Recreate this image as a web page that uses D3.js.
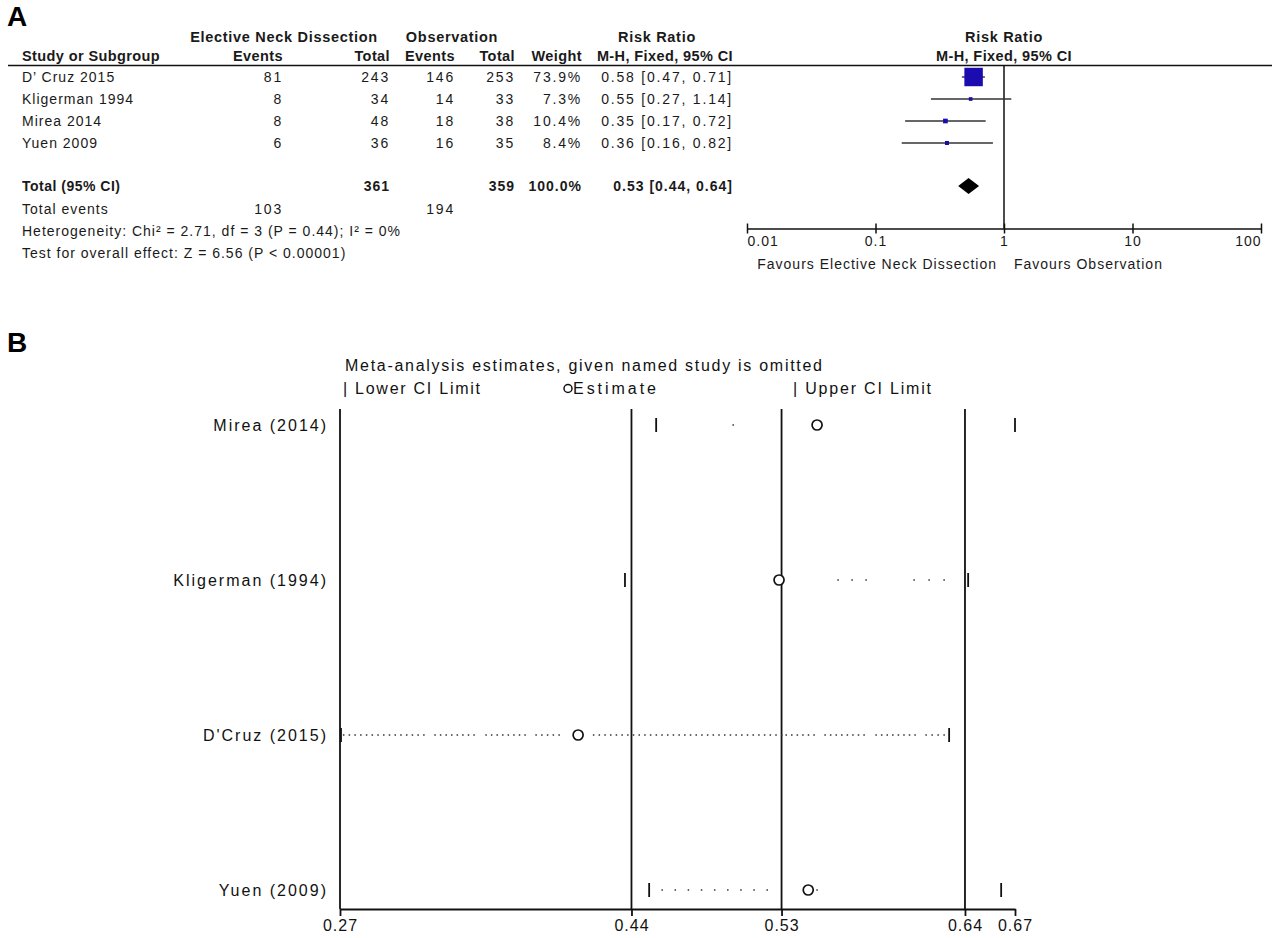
<!DOCTYPE html>
<html>
<head>
<meta charset="utf-8">
<script src="https://cdn.jsdelivr.net/npm/d3@7"></script>
<style>
  html, body { margin: 0; padding: 0; background: #fff; }
  svg { display: block; font-family: Arial, "Liberation Sans", sans-serif; }
  .hdr1 { font-size: 14.5px; font-weight: bold; letter-spacing: 0.7px; }
  .hdr2 { font-size: 14.5px; font-weight: bold; letter-spacing: 0.4px; }
  .txt { font-size: 14px; letter-spacing: 1px; }
  .num { font-size: 14px; letter-spacing: 1.8px; }
  .bnum { font-size: 14px; font-weight: bold; letter-spacing: 1px; }
  .btxt { font-size: 14px; font-weight: bold; letter-spacing: 0.5px; }
  .stata { font-size: 16px; }
</style>
</head>
<body>
<svg id="chart" width="1272" height="938"></svg>
<script>
// ---------- Panel A: forest plot data ----------
const studies   = ["D\u2019 Cruz 2015", "Kligerman 1994", "Mirea 2014", "Yuen 2009"];
const endEvents = [81, 8, 8, 6];
const endTotal  = [243, 34, 48, 36];
const obsEvents = [146, 14, 18, 16];
const obsTotal  = [253, 33, 38, 35];
const weights   = [73.9, 7.3, 10.4, 8.4];
const rr        = [0.58, 0.55, 0.35, 0.36];
const rrLow     = [0.47, 0.27, 0.17, 0.16];
const rrHigh    = [0.71, 1.14, 0.72, 0.82];
const pooledRR = 0.53, pooledLow = 0.44, pooledHigh = 0.64, pooledWeight = 100.0;
const heterogeneityText = "Heterogeneity: Chi\u00B2 = 2.71, df = 3 (P = 0.44); I\u00B2 = 0%";
const overallTestText   = "Test for overall effect: Z = 6.56 (P < 0.00001)";
const rrTicks = [0.01, 0.1, 1, 10, 100];

// ---------- Panel B: leave-one-out sensitivity data ----------
const omittedStudies = ["Mirea (2014)", "Kligerman (1994)", "D'Cruz (2015)", "Yuen (2009)"];
const omitLower    = [0.4542, 0.4355, 0.2652, 0.4500];
const omitEstimate = [0.5513, 0.5285, 0.4080, 0.5460];
const omitUpper    = [0.6700, 0.6419, 0.6305, 0.6617];
// visible stretches of the dotted connector on each row (estimate scale)
const omitDots = [
  [[0.5010, 0.5010]],
  [[0.5639, 0.5807], [0.6095, 0.6275]],
  [[0.2674, 0.3155], [0.3222, 0.3456], [0.3528, 0.3762], [0.3828, 0.3966],
   [0.4173, 0.5301], [0.5328, 0.5495], [0.5561, 0.5795], [0.5867, 0.6101], [0.6167, 0.6275]],
  [[0.4584, 0.5214], [0.5513, 0.5513]]
];
const overallLines = [0.44, 0.53, 0.64];
const sensTicks = [0.2652, 0.44, 0.53, 0.64, 0.67];

const svg = d3.select("#chart");
const ink = "#1a1a1a";

// ===================== Panel A =====================
const A = svg.append("g");
A.append("text").attr("x", 7).attr("y", 26).attr("font-size", 28).attr("font-weight", "bold")
  .attr("fill", "#000").text("A");

const col = { study: 22, endEvents: 283, endTotal: 390, obsEvents: 455, obsTotal: 515, weight: 582, ci: 733 };
const fmt2 = d3.format(".2f");
const ciText = (m, l, h) => `${fmt2(m)} [${fmt2(l)}, ${fmt2(h)}]`;

// header rows
const h1y = 42, h2y = 61;
A.append("text").attr("class", "hdr1").attr("x", 284).attr("y", h1y).attr("text-anchor", "middle").attr("fill", ink).text("Elective Neck Dissection");
A.append("text").attr("class", "hdr1").attr("x", 452).attr("y", h1y).attr("text-anchor", "middle").attr("fill", ink).text("Observation");
A.append("text").attr("class", "hdr1").attr("x", 657).attr("y", h1y).attr("text-anchor", "middle").attr("fill", ink).text("Risk Ratio");
A.append("text").attr("class", "hdr1").attr("x", 1004).attr("y", h1y).attr("text-anchor", "middle").attr("fill", ink).text("Risk Ratio");

const hdr2 = [
  ["Study or Subgroup", col.study, "start"],
  ["Events", col.endEvents, "end"],
  ["Total", col.endTotal, "end"],
  ["Events", col.obsEvents, "end"],
  ["Total", col.obsTotal, "end"],
  ["Weight", col.weight, "end"],
  ["M-H, Fixed, 95% CI", col.ci, "end"],
  ["M-H, Fixed, 95% CI", 1004, "middle"]
];
A.selectAll("text.h2").data(hdr2).join("text")
  .attr("class", "hdr2").attr("x", d => d[1]).attr("y", h2y)
  .attr("text-anchor", d => d[2]).attr("fill", ink).text(d => d[0]);

A.append("line").attr("x1", 8).attr("x2", 1272).attr("y1", 65.5).attr("y2", 65.5)
  .attr("stroke", "#111").attr("stroke-width", 1.5);

// study rows
const rowY = d3.scalePoint().domain(studies).range([77, 143]);
const rows = studies.map((s, i) => ({ s, i }));
const cells = [
  [d => d.s, col.study, "start", "txt"],
  [d => endEvents[d.i], col.endEvents, "end", "num"],
  [d => endTotal[d.i], col.endTotal, "end", "num"],
  [d => obsEvents[d.i], col.obsEvents, "end", "num"],
  [d => obsTotal[d.i], col.obsTotal, "end", "num"],
  [d => d3.format(".1f")(weights[d.i]) + "%", col.weight, "end", "num"],
  [d => ciText(rr[d.i], rrLow[d.i], rrHigh[d.i]), col.ci, "end", "num"]
];
cells.forEach(([acc, x, anchor, cls]) => {
  A.selectAll(null).data(rows).join("text")
    .attr("class", cls).attr("x", x).attr("y", d => rowY(d.s)).attr("dy", "0.36em")
    .attr("text-anchor", anchor).attr("fill", ink).text(acc);
});

// totals
const totY = 186, evY = 209, hetY = 231, testY = 253;
const addT = (t, x, y, anchor, cls) => A.append("text").attr("class", cls).attr("x", x).attr("y", y)
  .attr("dy", "0.36em").attr("text-anchor", anchor).attr("fill", ink).text(t);
addT("Total (95% CI)", col.study, totY, "start", "btxt");
addT(d3.sum(endTotal), col.endTotal, totY, "end", "bnum");
addT(d3.sum(obsTotal), col.obsTotal, totY, "end", "bnum");
addT(d3.format(".1f")(pooledWeight) + "%", col.weight, totY, "end", "bnum");
addT(ciText(pooledRR, pooledLow, pooledHigh), col.ci, totY, "end", "bnum");
addT("Total events", col.study, evY, "start", "txt");
addT(d3.sum(endEvents), col.endEvents, evY, "end", "num");
addT(d3.sum(obsEvents), col.obsEvents, evY, "end", "num");
addT(heterogeneityText, col.study, hetY, "start", "txt");
addT(overallTestText, col.study, testY, "start", "txt");

// forest plot
const xA = d3.scaleLog().domain([0.01, 100]).range([747, 1261]);
const axisY = 228.5;
const boxSize = d3.scalePow().exponent(0.7).domain([0, 100]).range([0, 22.8]);

A.append("line").attr("x1", xA(1)).attr("x2", xA(1)).attr("y1", 65.5).attr("y2", axisY)
  .attr("stroke", "#111").attr("stroke-width", 1.5);

A.selectAll("line.ci").data(rows).join("line")
  .attr("x1", d => xA(rrLow[d.i])).attr("x2", d => xA(rrHigh[d.i]))
  .attr("y1", d => rowY(d.s)).attr("y2", d => rowY(d.s))
  .attr("stroke", "#333").attr("stroke-width", 1.4);

A.selectAll("rect.box").data(rows).join("rect")
  .attr("x", d => xA(rr[d.i]) - boxSize(weights[d.i]) / 2)
  .attr("y", d => rowY(d.s) - boxSize(weights[d.i]) / 2)
  .attr("width", d => boxSize(weights[d.i]))
  .attr("height", d => boxSize(weights[d.i]))
  .attr("fill", "#1b0cb0");

const dh = 8;
A.append("path")
  .attr("d", `M${xA(pooledLow)},${totY} L${xA(pooledRR)},${totY - dh} L${xA(pooledHigh)},${totY} L${xA(pooledRR)},${totY + dh} Z`)
  .attr("fill", "#000");

const axA = A.append("g").attr("transform", `translate(0,${axisY})`)
  .call(d3.axisBottom(xA).tickValues(rrTicks).tickFormat(d => String(d)).tickSizeInner(5).tickSizeOuter(0));
axA.select(".domain").attr("stroke", "#111").attr("stroke-width", 1.5);
axA.selectAll(".tick line").attr("y1", -5).attr("stroke", "#111").attr("stroke-width", 1.5);
axA.selectAll(".tick text").attr("font-family", "Arial, sans-serif").attr("font-size", 14)
  .attr("letter-spacing", "1px").attr("fill", ink).attr("y", 8)
  .attr("text-anchor", (d, i) => i === 0 ? "start" : (i === rrTicks.length - 1 ? "end" : "middle"));

A.append("text").attr("class", "txt").attr("x", xA(1) - 7).attr("y", 264).attr("dy", "0.36em")
  .attr("text-anchor", "end").attr("fill", ink).text("Favours Elective Neck Dissection");
A.append("text").attr("class", "txt").attr("x", xA(1) + 10).attr("y", 264).attr("dy", "0.36em")
  .attr("text-anchor", "start").attr("fill", ink).text("Favours Observation");

// ===================== Panel B =====================
const B = svg.append("g");
B.append("text").attr("x", 7).attr("y", 352).attr("font-size", 28).attr("font-weight", "bold")
  .attr("fill", "#000").text("B");

const xB = d3.scaleLinear().domain([sensTicks[0], 0.67]).range([340, 1015]);
const yB = d3.scalePoint().domain(omittedStudies).range([425, 890]);
const plotTop = 409, plotBottom = 909;
const stataInk = "#111";

B.append("text").attr("class", "stata").attr("x", 345).attr("y", 371)
  .attr("textLength", 477).attr("lengthAdjust", "spacing").attr("fill", stataInk)
  .text("Meta-analysis estimates, given named study is omitted");
B.append("text").attr("class", "stata").attr("x", 343).attr("y", 394)
  .attr("textLength", 137).attr("lengthAdjust", "spacing").attr("fill", stataInk).text("| Lower CI Limit");
B.append("circle").attr("cx", 568).attr("cy", 388.5).attr("r", 4).attr("fill", "none")
  .attr("stroke", stataInk).attr("stroke-width", 1.5);
B.append("text").attr("class", "stata").attr("x", 573).attr("y", 394)
  .attr("textLength", 83).attr("lengthAdjust", "spacing").attr("fill", stataInk).text("Estimate");
B.append("text").attr("class", "stata").attr("x", 793).attr("y", 394)
  .attr("textLength", 138).attr("lengthAdjust", "spacing").attr("fill", stataInk).text("| Upper CI Limit");

// frame: left line and reference lines at the overall estimate and its CI
B.append("line").attr("x1", xB.range()[0]).attr("x2", xB.range()[0]).attr("y1", plotTop).attr("y2", plotBottom)
  .attr("stroke", stataInk).attr("stroke-width", 1.8);
B.selectAll("line.ref").data(overallLines).join("line")
  .attr("x1", d => xB(d)).attr("x2", d => xB(d)).attr("y1", plotTop).attr("y2", plotBottom)
  .attr("stroke", stataInk).attr("stroke-width", 1.8);

const axB = B.append("g").attr("transform", `translate(0,${plotBottom})`)
  .call(d3.axisBottom(xB).tickValues(sensTicks).tickFormat(d3.format(".2f")).tickSizeInner(7).tickSizeOuter(0));
axB.select(".domain").attr("stroke", stataInk).attr("stroke-width", 1.8);
axB.selectAll(".tick line").attr("stroke", stataInk).attr("stroke-width", 1.8);
axB.selectAll(".tick text").attr("font-family", "Arial, sans-serif").attr("font-size", 16)
  .attr("letter-spacing", "1px").attr("fill", stataInk).attr("y", 11);

// row labels
B.selectAll("text.lab").data(omittedStudies).join("text")
  .attr("class", "stata").attr("x", 328).attr("y", d => yB(d)).attr("dy", "0.36em")
  .attr("text-anchor", "end").attr("letter-spacing", "2px").attr("fill", stataInk).text(d => d);

const bRows = omittedStudies.map((s, i) => ({ s, i }));
const dotStep = [10, 14, 5.7, 13.1];

// dotted connectors
bRows.forEach(r => {
  omitDots[r.i].forEach(([a, b]) => {
    const x0 = xB(a), x1 = xB(b);
    const n = Math.max(1, Math.round((x1 - x0) / dotStep[r.i]) + 1);
    const pts = d3.range(n).map(k => n === 1 ? x0 : x0 + (x1 - x0) * k / (n - 1));
    B.selectAll(null).data(pts).join("rect")
      .attr("x", x => x - 0.75).attr("y", yB(r.s) - 0.75).attr("width", 1.5).attr("height", 1.5)
      .attr("fill", "#333");
  });
});

// CI limit markers
const tickH = 7;
B.selectAll("line.lo").data(bRows).join("line")
  .attr("x1", d => xB(omitLower[d.i]) + 1).attr("x2", d => xB(omitLower[d.i]) + 1)
  .attr("y1", d => yB(d.s) - tickH).attr("y2", d => yB(d.s) + tickH)
  .attr("stroke", stataInk).attr("stroke-width", 1.8);
B.selectAll("line.hi").data(bRows).join("line")
  .attr("x1", d => xB(omitUpper[d.i])).attr("x2", d => xB(omitUpper[d.i]))
  .attr("y1", d => yB(d.s) - tickH).attr("y2", d => yB(d.s) + tickH)
  .attr("stroke", stataInk).attr("stroke-width", 1.8);

// estimates
B.selectAll("circle.est").data(bRows).join("circle")
  .attr("cx", d => xB(omitEstimate[d.i])).attr("cy", d => yB(d.s)).attr("r", 5)
  .attr("fill", "#fff").attr("stroke", stataInk).attr("stroke-width", 1.7);
</script>
</body>
</html>
